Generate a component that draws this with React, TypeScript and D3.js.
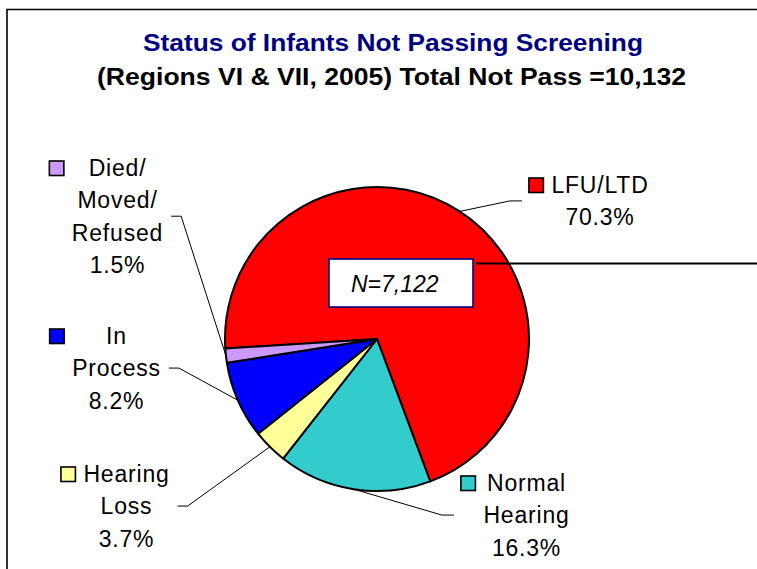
import React, { useEffect, useRef } from 'react';
import { select, pie, arc } from 'd3';

const categories = ['LFU/LTD', 'Normal Hearing', 'Hearing Loss', 'In Process', 'Died/Moved/Refused'];
const percents = [70.3, 16.3, 3.7, 8.2, 1.5];
const colors = ['#FF0000', '#33CCCC', '#FFFF99', '#0000FF', '#CC99FF'];
const labelWords = [['LFU/LTD'], ['Normal', 'Hearing'], ['Hearing', 'Loss'], ['In', 'Process'], ['Died/', 'Moved/', 'Refused']];
const titleLines = ['Status of Infants Not Passing Screening', '(Regions VI & VII, 2005) Total Not Pass =10,132'];
const nLabel = 'N=7,122';

// label placement (center x, first baseline, side of the leader stub)
const labelPos = [
  { cx: 600, y: 193, side: 'left' },
  { cx: 526.5, y: 491, side: 'left' },
  { cx: 126.5, y: 482, side: 'right' },
  { cx: 116.5, y: 344, side: 'right' },
  { cx: 117.5, y: 176, side: 'right' },
];

const W = 757;
const H = 569;
const cx = 377;
const cy = 339;
const R = 152;
const FONT = 'Arial, "Liberation Sans", sans-serif';
const LINE_H = 32.3;
const FS = 23;

export default function App() {
  const svgRef = useRef<SVGSVGElement>(null);

  useEffect(() => {
    const svg = select(svgRef.current);
    svg.selectAll('*').remove();

    svg.append('rect').attr('width', W).attr('height', H).attr('fill', '#fff');
    // frame: only top and left edges are inside the picture
    svg
      .append('polyline')
      .attr('points', `${W + 5},9.5 7,9.5 7,${H + 5}`)
      .attr('fill', 'none')
      .attr('stroke', '#000')
      .attr('stroke-width', 1.6);

    // titles
    svg
      .append('text')
      .attr('x', 143)
      .attr('y', 51)
      .attr('textLength', 500)
      .attr('lengthAdjust', 'spacingAndGlyphs')
      .attr('font-family', FONT)
      .attr('font-weight', 'bold')
      .attr('font-size', 24)
      .attr('fill', '#000080')
      .text(titleLines[0]);
    svg
      .append('text')
      .attr('x', 97)
      .attr('y', 85)
      .attr('textLength', 589)
      .attr('lengthAdjust', 'spacingAndGlyphs')
      .attr('font-family', FONT)
      .attr('font-weight', 'bold')
      .attr('font-size', 23)
      .attr('fill', '#000')
      .text(titleLines[1]);

    const pieGen = pie<number>()
      .sort(null)
      .value((d) => d)
      .startAngle((-93.6 * Math.PI) / 180)
      .endAngle(((360 - 93.6) * Math.PI) / 180);
    const arcs = pieGen(percents);
    const arcGen = arc<any>().innerRadius(0).outerRadius(R);
    const edgeArc = arc<any>().innerRadius(R).outerRadius(R);

    const g = svg.append('g').attr('transform', `translate(${cx},${cy})`);
    g.selectAll('path.slice')
      .data(arcs)
      .join('path')
      .attr('class', 'slice')
      .attr('d', arcGen)
      .attr('fill', (d, i) => colors[i])
      .attr('stroke', '#000')
      .attr('stroke-width', 2)
      .attr('stroke-linejoin', 'round');

    // labels
    arcs.forEach((a, i) => {
      const pos = labelPos[i];
      const lines = [...labelWords[i], `${percents[i].toFixed(1)}%`];
      const lg = svg.append('g');
      const texts = lines.map((t, k) =>
        lg
          .append('text')
          .attr('x', pos.cx)
          .attr('y', pos.y + k * LINE_H)
          .attr('text-anchor', 'middle')
          .attr('font-family', FONT)
          .attr('font-size', FS)
          .attr('letter-spacing', 0.8)
          .attr('fill', '#000')
          .text(t)
      );
      const widths = texts.map((t) => (t.node() as SVGTextElement).getComputedTextLength());
      const maxW = Math.max(...widths);
      const left = pos.cx - maxW / 2;
      const right = pos.cx + maxW / 2;
      const keyX = left - 8 - 14.5;
      lg.append('rect')
        .attr('x', keyX)
        .attr('y', pos.y - 15)
        .attr('width', 14.5)
        .attr('height', 14.5)
        .attr('fill', colors[i])
        .attr('stroke', '#000')
        .attr('stroke-width', 1.6);

      const top = pos.y - 0.716 * FS;
      const bottom = pos.y + (lines.length - 1) * LINE_H;
      const my = (top + bottom) / 2;
      const [ex, ey] = edgeArc.centroid(a);
      let s0: number, s1: number;
      if (pos.side === 'right') {
        s0 = right + 8;
        s1 = right + 18;
      } else {
        s0 = keyX - 7;
        s1 = keyX - 19;
      }
      svg
        .append('polyline')
        .attr('points', `${s0},${my} ${s1},${my} ${cx + ex},${cy + ey}`)
        .attr('fill', 'none')
        .attr('stroke', '#000')
        .attr('stroke-width', 1);
    });

    // N annotation box
    svg
      .append('line')
      .attr('x1', 476)
      .attr('x2', W + 5)
      .attr('y1', 263.5)
      .attr('y2', 263.5)
      .attr('stroke', '#000')
      .attr('stroke-width', 2);
    svg
      .append('rect')
      .attr('x', 329)
      .attr('y', 259)
      .attr('width', 144)
      .attr('height', 48)
      .attr('fill', '#fff')
      .attr('stroke', '#000080')
      .attr('stroke-width', 1.6);
    svg
      .append('text')
      .attr('x', 351)
      .attr('y', 292)
      .attr('font-family', FONT)
      .attr('font-style', 'italic')
      .attr('font-size', 23)
      .attr('fill', '#000')
      .text(nLabel);
  }, []);

  return (
    <React.Fragment>
      <svg
        ref={svgRef}
        width={W}
        height={H}
        style={{ position: 'absolute', left: 0, top: 0, display: 'block' }}
      ></svg>
    </React.Fragment>
  );
}
